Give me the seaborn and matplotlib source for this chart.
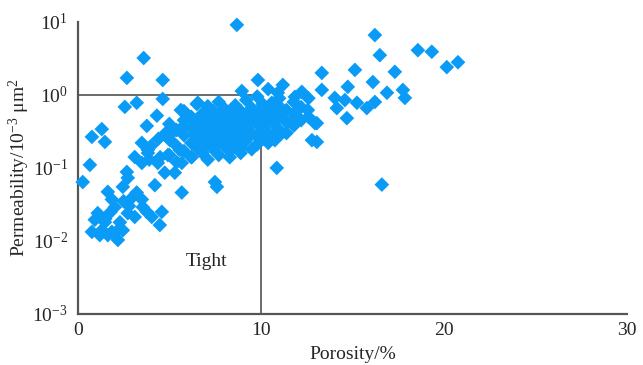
import numpy as np
import pandas as pd
import seaborn as sns
import matplotlib
matplotlib.use("Agg")
import matplotlib.pyplot as plt

# porosity (%) and permeability (10^-3 um^2)
porosity = [
    8.69, 3.6, 2.68, 4.64, 4.64, 2.57, 3.22, 4.32, 3.77, 5.63, 6.56, 0.77, 1.31, 1.48,
    8.96, 9.84, 3.5, 3.83, 0.66, 0.27, 2.68, 2.73, 2.46, 1.64, 1.86, 2.02, 3.22, 3.5,
    3.55, 4.21, 5.68, 4.59, 4.48, 2.73, 3.11, 3.77, 4.04, 1.09, 0.93, 1.48, 1.31, 0.77,
    1.2, 1.64, 2.19, 2.46, 2.19, 1.86, 3.11, 3.5, 3.83, 4.37, 4.75, 5.3, 5.68, 6.23,
    7.49, 7.6, 10.87, 11.2, 13.33, 10.6, 10.93, 11.86, 12.24, 12.57, 12.95, 12.79, 11.86,
    11.15, 10.77, 16.23, 16.5, 18.58, 19.34, 20.16, 20.77, 15.14, 17.32, 16.12, 14.75,
    16.89, 17.76, 17.87, 13.33, 14.04, 14.59, 15.25, 15.79, 16.23, 14.15, 14.7, 13.06,
    13.06, 16.61,
    5.03, 5.3, 5.85, 5.57, 6.39, 4.92, 6.12,
    1.5, 2.3, 2.8, 3.0, 1.8, 2.5, 4.0, 4.4, 4.8, 3.9, 4.5,
    # dense cloud
    5.0, 5.0, 5.0, 5.4, 5.4, 5.4, 5.8, 5.8, 5.8, 5.8, 6.2, 6.2, 6.2, 6.2,
    6.5, 6.5, 6.5, 6.5, 6.8, 6.8, 6.8, 6.8, 7.1, 7.1, 7.1, 7.1, 7.1,
    7.4, 7.4, 7.4, 7.4, 7.7, 7.7, 7.7, 7.7, 7.7, 8.0, 8.0, 8.0, 8.0,
    8.3, 8.3, 8.3, 8.3, 8.3, 8.6, 8.6, 8.6, 8.6, 8.9, 8.9, 8.9, 8.9, 8.9,
    9.2, 9.2, 9.2, 9.2, 9.5, 9.5, 9.5, 9.5, 9.8, 9.8, 9.8, 9.8, 9.8,
    10.1, 10.1, 10.1, 10.1, 10.4, 10.4, 10.4, 10.4, 10.4, 10.7, 10.7, 10.7,
    11.0, 11.0, 11.0, 11.0, 11.4, 11.4, 11.4, 11.8, 11.8, 11.8, 12.2, 12.2, 12.6, 12.6,
]
permeability = [
    9.1, 3.2, 1.71, 1.6, 0.88, 0.685, 0.78, 0.52, 0.376, 0.62, 0.78, 0.266, 0.34, 0.227,
    1.13, 1.6, 0.22, 0.176, 0.11, 0.064, 0.088, 0.073, 0.055, 0.047, 0.037, 0.029, 0.046, 0.037,
    0.029, 0.058, 0.046, 0.025, 0.0165, 0.024, 0.0213, 0.025, 0.0213, 0.024, 0.0195, 0.018, 0.014, 0.0133,
    0.012, 0.012, 0.014, 0.014, 0.0103, 0.0133, 0.141, 0.117, 0.16, 0.117, 0.086, 0.086, 0.117, 0.141,
    0.064, 0.055, 0.1, 1.37, 2.0, 0.78, 1.07, 0.94, 1.1, 0.62, 0.41, 0.24, 0.50,
    0.30, 0.24, 6.6, 3.5, 4.1, 3.9, 2.4, 2.8, 2.2, 2.07, 1.5, 1.29,
    1.07, 1.17, 0.91, 1.17, 0.91, 0.85, 0.78, 0.66, 0.80, 0.66, 0.48, 0.41,
    0.227, 0.059,
    0.24, 0.33, 0.39, 0.176, 0.28, 0.15, 0.455,
    0.02, 0.018, 0.03, 0.04, 0.025, 0.035, 0.2, 0.25, 0.3, 0.13, 0.14,
    0.15, 0.25, 0.4, 0.2, 0.33, 0.12, 0.17, 0.28, 0.45, 0.6, 0.14, 0.22, 0.35, 0.5,
    0.19, 0.3, 0.42, 0.75, 0.16, 0.25, 0.38, 0.55, 0.13, 0.21, 0.32, 0.48, 0.7,
    0.18, 0.27, 0.4, 0.6, 0.15, 0.23, 0.35, 0.52, 0.8, 0.2, 0.3, 0.44, 0.65,
    0.14, 0.17, 0.26, 0.38, 0.56, 0.22, 0.33, 0.48, 0.72, 0.16, 0.19, 0.28, 0.42, 0.6,
    0.24, 0.36, 0.52, 0.85, 0.18, 0.3, 0.45, 0.66, 0.21, 0.27, 0.4, 0.58, 0.95,
    0.25, 0.35, 0.5, 0.75, 0.22, 0.3, 0.45, 0.65, 1.2, 0.28, 0.4, 0.58,
    0.33, 0.5, 0.7, 0.9, 0.3, 0.42, 0.62, 0.38, 0.55, 0.8, 0.45, 0.68, 0.5, 0.9,
]

x_ticks = [0, 10, 20, 30]
y_ticks = [1e-3, 1e-2, 1e-1, 1e0, 1e1]

df = pd.DataFrame({"Porosity": porosity, "Permeability": permeability})

sns.set_style("white")
plt.rcParams["font.family"] = ["Liberation Serif", "DejaVu Serif"]
plt.rcParams["mathtext.fontset"] = "custom"
plt.rcParams["mathtext.rm"] = "Liberation Serif"
plt.rcParams["mathtext.it"] = "Liberation Serif:italic"

fig = plt.figure(figsize=(6.43, 3.65), dpi=100)
ax = fig.add_axes([0.121, 0.140, 0.854, 0.800])

sns.scatterplot(data=df, x="Porosity", y="Permeability", marker="D", s=56,
                color="#0a9bf7", edgecolor="none", linewidth=0, ax=ax, zorder=3,
                clip_on=False)

ax.set_yscale("log")
ax.set_xlim(0, 30)
ax.set_ylim(1e-3, 1e1)
ax.set_xticks(x_ticks)
ax.set_yticks(y_ticks)
ax.minorticks_off()

# tight reservoir box
ax.plot([0, 10], [1, 1], color="#444444", lw=1.1, zorder=2)
ax.plot([10, 10], [1e-3, 1], color="#444444", lw=1.1, zorder=2)
ax.text(7.05, 0.0052, "Tight", fontsize=14, ha="center", va="center", color="#222222")

for side in ["top", "right"]:
    ax.spines[side].set_visible(False)
for side in ["left", "bottom"]:
    ax.spines[side].set_color("#555555")
    ax.spines[side].set_linewidth(1.6)

ax.tick_params(axis="x", direction="in", length=6, width=1.2, color="#555555",
               labelsize=14, pad=6)
ax.tick_params(axis="y", direction="out", length=5, width=1.2, color="#555555",
               labelsize=14, pad=2)

ax.set_xlabel("Porosity/%", fontsize=14, labelpad=5)
ax.set_ylabel(r"Permeability/10$^{-3}$ μm$^{2}$", fontsize=14, labelpad=0)

fig.savefig("out.png", dpi=100)
